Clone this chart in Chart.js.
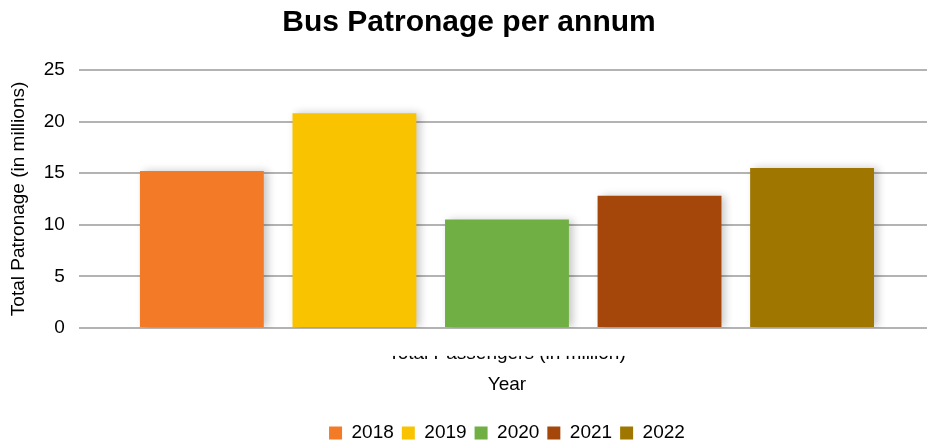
<!DOCTYPE html>
<html>
<head>
<meta charset="utf-8">
<title>Bus Patronage per annum</title>
<script src="https://cdn.jsdelivr.net/npm/chart.js@4.4.1/dist/chart.umd.min.js"></script>
<style>
    html, body { margin: 0; padding: 0; background: #fff; overflow: hidden; }
    /* plot runs past the right edge of the window */
    #wrap { width: 935px; height: 441px; }
</style>
</head>
<body>
<div id="wrap"><canvas id="patronageChart"></canvas></div>
<script>
const categories = ['Total Passengers (in million)'];
const years = ['2018', '2019', '2020', '2021', '2022'];
const passengers = [15.2, 20.8, 10.5, 12.8, 15.5];
const yearColors = ['#f37b28', '#f9c300', '#6faf43', '#a5460a', '#9f7600'];
const yTicks = [0, 5, 10, 15, 20, 25];

// soft drop shadow behind the bars
const barShadow = {
    id: 'barShadow',
    beforeDatasetsDraw(chart) {
        const ctx = chart.ctx;
        ctx.save();
        ctx.shadowColor = 'rgba(0, 0, 0, 0.22)';
        ctx.shadowBlur = 8;
        ctx.shadowOffsetX = 4;
        ctx.shadowOffsetY = 0;
    },
    afterDatasetsDraw(chart) {
        chart.ctx.restore();
    }
};

// the category label sits half hidden under the plot, only its lower part shows
const clipCategoryLabel = {
    id: 'clipCategoryLabel',
    afterDraw(chart) {
        const x = chart.scales.x;
        const ctx = chart.ctx;
        ctx.save();
        ctx.fillStyle = '#fff';
        ctx.fillRect(x.left, x.top + 2, x.width, x.options.ticks.padding + 12);
        ctx.restore();
    }
};

Chart.defaults.font.family = '"Liberation Sans", Arial, sans-serif';
Chart.defaults.color = '#000';

const ctx = document.getElementById('patronageChart').getContext('2d');
new Chart(ctx, {
    type: 'bar',
    data: {
        labels: categories,
        datasets: years.map((year, i) => ({
            label: year,
            data: [passengers[i]],
            backgroundColor: yearColors[i],
            borderWidth: 0
        }))
    },
    options: {
        responsive: true,
        maintainAspectRatio: false,
        animation: false,
        categoryPercentage: 0.891,
        barPercentage: 0.812,
        layout: {
            padding: { left: 3, right: 0, top: 0, bottom: -11.5 }
        },
        plugins: {
            title: {
                display: true,
                text: 'Bus Patronage per annum',
                font: { size: 30, weight: 'bold' },
                padding: { top: 5, bottom: 29 }
            },
            legend: {
                position: 'bottom',
                fullSize: false,
                labels: {
                    boxWidth: 13,
                    boxHeight: 13,
                    font: { size: 19 },
                    padding: 8
                }
            },
            tooltip: { enabled: false }
        },
        scales: {
            x: {
                grid: { display: false, drawTicks: false },
                border: { display: false },
                ticks: { font: { size: 19 }, padding: 14 },
                title: {
                    display: true,
                    text: 'Year',
                    font: { size: 19 },
                    padding: { top: -5, bottom: 19 }
                }
            },
            y: {
                min: yTicks[0],
                max: yTicks[yTicks.length - 1],
                afterBuildTicks(scale) {
                    scale.ticks = yTicks.map(v => ({ value: v }));
                },
                grid: { color: '#b3b3b3', lineWidth: 2, drawTicks: false },
                border: { display: false },
                ticks: { font: { size: 19 }, padding: 14 },
                title: {
                    display: true,
                    text: 'Total Patronage (in millions)',
                    font: { size: 19 },
                    padding: { top: 4, bottom: 0 }
                }
            }
        }
    },
    plugins: [barShadow, clipCategoryLabel]
});
</script>
</body>
</html>
